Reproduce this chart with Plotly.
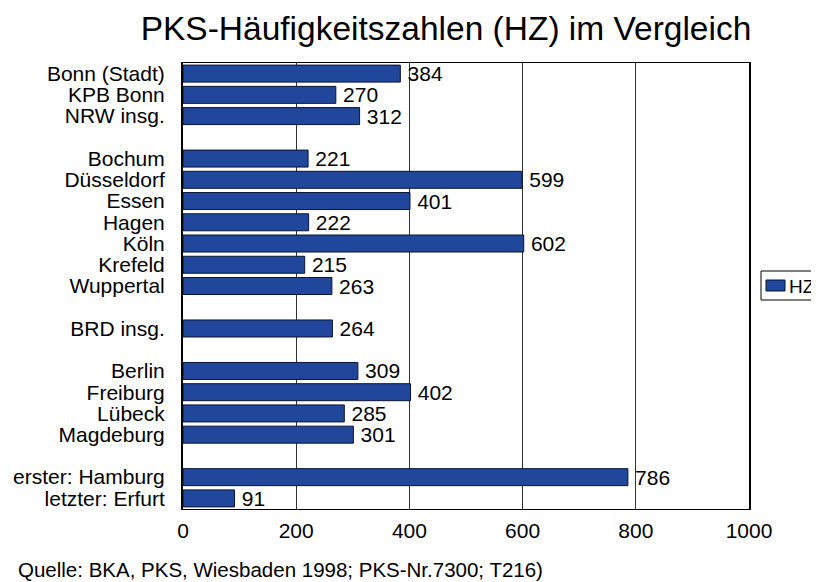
import plotly.graph_objects as go

# Rows top to bottom; None marks an empty separator row
categories = ["Bonn (Stadt)", "KPB Bonn", "NRW insg.", None,
              "Bochum", "Düsseldorf", "Essen", "Hagen", "Köln", "Krefeld", "Wuppertal", None,
              "BRD insg.", None,
              "Berlin", "Freiburg", "Lübeck", "Magdeburg", None,
              "erster: Hamburg", "letzter: Erfurt"]
values = [384, 270, 312, None,
          221, 599, 401, 222, 602, 215, 263, None,
          264, None,
          309, 402, 285, 301, None,
          786, 91]
series_name = "HZ"
x_ticks = [0, 200, 400, 600, 800, 1000]
title = "PKS-Häufigkeitszahlen (HZ) im Vergleich"
source = "Quelle: BKA, PKS, Wiesbaden 1998; PKS-Nr.7300; T216)"

rows = list(range(len(categories)))
ys = [r for r, c in zip(rows, categories) if c is not None]
xs = [v for c, v in zip(categories, values) if c is not None]
labels = [c for c in categories if c is not None]

FONT = "Liberation Sans, Arial, sans-serif"
BAR = "#21479c"
OFF = 8  # page body margin
W, H = 819 - OFF, 582 - OFF
# plot area in window pixels: x 183..749, y 63..509
ML, MT = 183 - OFF, 63 - OFF
MR, MB = W - (749 - OFF), H - (509 - OFF)
PW, PH = W - ML - MR, H - MT - MB


def px_x(p):  # window pixel -> paper
    return (p - OFF - ML) / PW


def px_y(p):
    return (H - MB - (p - OFF)) / PH


fig = go.Figure()
fig.add_trace(go.Bar(
    x=xs, y=ys, orientation="h", name=series_name,
    width=0.8,
    marker=dict(color=BAR, line=dict(color="#0b1430", width=1)),
    text=["\u2009" + str(v) for v in xs], textposition="outside",
    textfont=dict(family=FONT, size=21, color="black"),
    constraintext="none", cliponaxis=False,
    showlegend=False,
))

# legend drawn as box + swatch + label
shapes = [
    dict(type="rect", xref="paper", yref="paper",
         x0=px_x(761), x1=px_x(840), y0=px_y(300), y1=px_y(271),
         line=dict(color="black", width=1), fillcolor="white", layer="above"),
    dict(type="rect", xref="paper", yref="paper",
         x0=px_x(766), x1=px_x(785), y0=px_y(291), y1=px_y(280),
         line=dict(color="#0b1430", width=1), fillcolor=BAR, layer="above"),
]
annotations = [
    dict(text=series_name, xref="paper", yref="paper", x=px_x(787), y=px_y(286),
         xanchor="left", yanchor="middle", showarrow=False,
         font=dict(family=FONT, size=19, color="black")),
    dict(text=source, xref="paper", yref="paper", x=px_x(16), y=px_y(569),
         xanchor="left", yanchor="middle", showarrow=False,
         font=dict(family=FONT, size=20.5, color="black")),
]

fig.update_layout(
    width=W, height=H,
    margin=dict(l=ML, r=MR, t=MT, b=MB, autoexpand=False),
    paper_bgcolor="white", plot_bgcolor="white",
    font=dict(family=FONT, size=21, color="black"),
    title=dict(text=title, x=(446 - OFF) / W, xanchor="center",
               y=1 - (28 - OFF) / H, yanchor="middle",
               font=dict(family=FONT, size=33.5, color="black")),
    showlegend=False,
    xaxis=dict(range=[0, 1000], tickvals=x_ticks, ticktext=[str(t) for t in x_ticks],
               showgrid=True, gridcolor="#333333", gridwidth=1,
               showline=True, linecolor="black", linewidth=1, mirror=True,
               zeroline=False, ticks="", ticklabelstandoff=3, automargin=False,
               tickfont=dict(family=FONT, size=21, color="black")),
    yaxis=dict(range=[len(categories) - 0.5, -0.5], tickvals=ys, ticktext=labels,
               showgrid=False, showline=True, linecolor="black", linewidth=2, mirror=True,
               zeroline=False, ticks="", ticklabelstandoff=12, automargin=False,
               tickfont=dict(family=FONT, size=21, color="black")),
    shapes=shapes,
    annotations=annotations,
)

fig.write_html("out.html")
